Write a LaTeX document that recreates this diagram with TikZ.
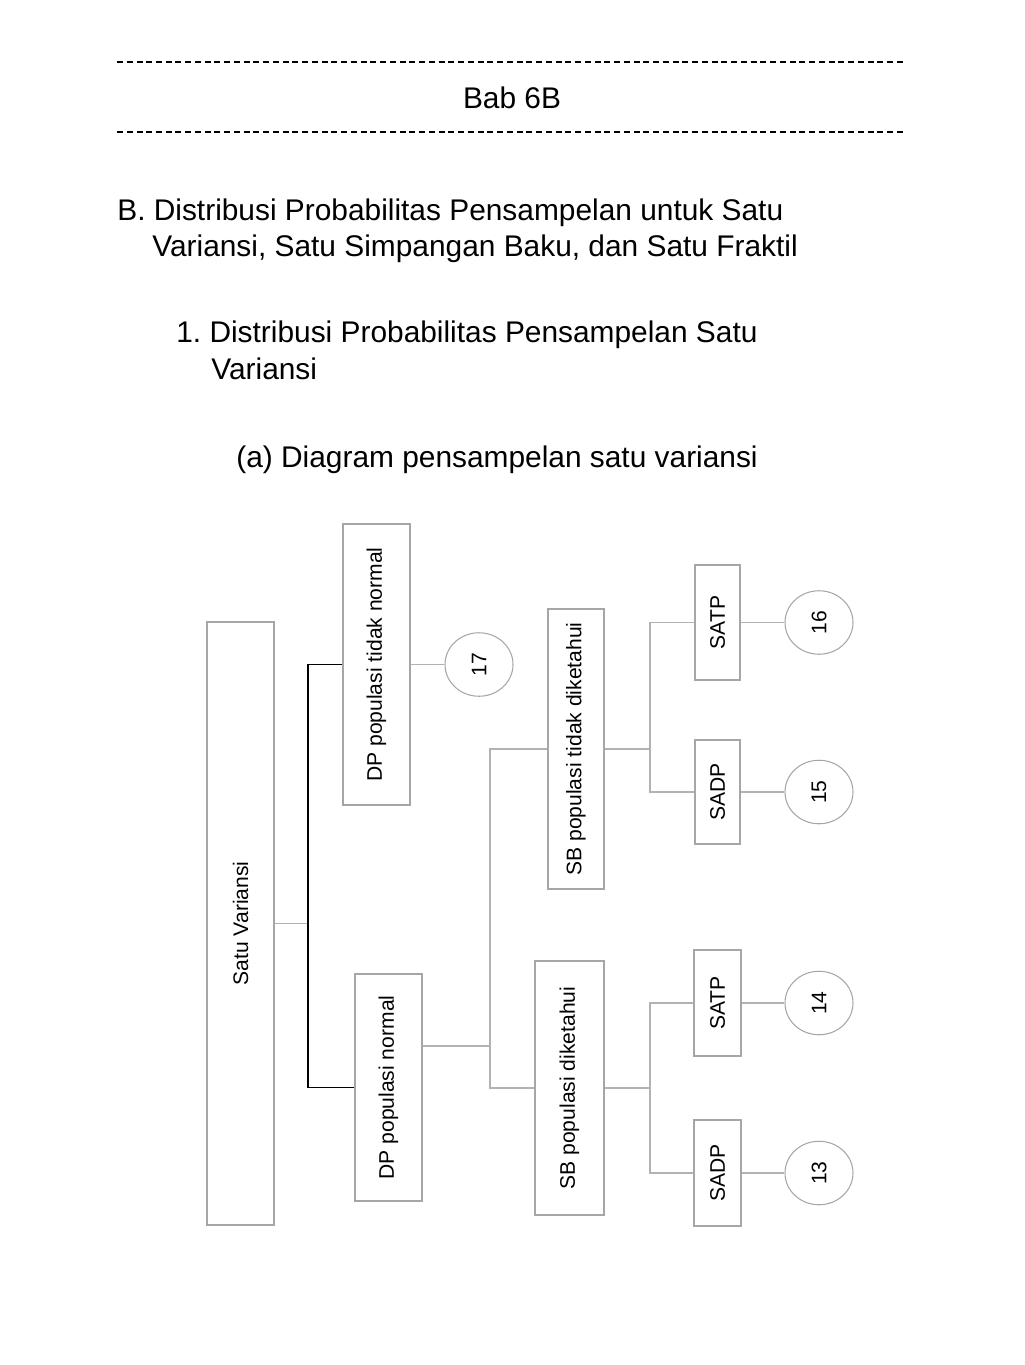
\documentclass[tikz,border=0pt]{standalone}
\usepackage{fontspec}
\setmainfont{Liberation Sans}
\usepackage{tikz}
\usetikzlibrary{shapes.geometric,calc}
\tikzset{
    kotak/.style={
        rectangle,
        draw=black!35,
        line width=0.6pt,
        inner sep=0pt,
        font=\fontsize{12}{14}\selectfont
    },
    lingkaran/.style={
        ellipse,
        draw=black!35,
        line width=0.6pt,
        inner sep=0pt,
        minimum width=1.36cm,
        minimum height=1.27cm,
        font=\fontsize{12}{14}\selectfont
    },
    garis/.style={draw=black!30, line width=0.6pt},
    garisTebal/.style={draw=black, line width=1.1pt},
    judul/.style={font=\fontsize{17}{20}\selectfont, inner sep=0pt},
    pemisah/.style={line width=1.5pt, dash pattern=on 0.12cm off 0.075cm}
}

\begin{document}
\begin{tikzpicture}

    \useasboundingbox[fill=white] (0,0) rectangle (20.48,-27.3);

    % kepala halaman
    \draw[pemisah] (2.34,-1.24) -- (18.10,-1.24);
    \node[judul, anchor=base] (bab) at (10.24,-2.16) {Bab 6B};
    \draw[pemisah] (2.34,-2.64) -- (18.10,-2.64);

    \node[judul, anchor=base west] (bagB1) at (2.34,-4.40)
    {B.\ Distribusi Probabilitas Pensampelan untuk Satu};
    \node[judul, anchor=base west] (bagB2) at (3.04,-5.12)
    {Variansi, Satu Simpangan Baku, dan Satu Fraktil};

    \node[judul, anchor=base west] (sub1a) at (3.52,-6.84)
    {1.\ Distribusi Probabilitas Pensampelan Satu};
    \node[judul, anchor=base west] (sub1b) at (4.22,-7.58)
    {Variansi};

    \node[judul, anchor=base west] (subA) at (4.72,-9.34)
    {(a) Diagram pensampelan satu variansi};

    % kotak-kotak
    \node[kotak, minimum width=1.34cm, minimum height=12.06cm] (sv) at (4.81,-18.47)
    {\rotatebox{90}{Satu Variansi}};

    \node[kotak, minimum width=1.34cm, minimum height=5.62cm] (dpt) at (7.53,-13.29)
    {\rotatebox{90}{DP populasi tidak normal}};

    \node[kotak, minimum width=1.34cm, minimum height=4.54cm] (dpn) at (7.77,-21.75)
    {\rotatebox{90}{DP populasi normal}};

    \node[kotak, minimum width=1.12cm, minimum height=5.60cm] (sbt) at (11.52,-14.98)
    {\rotatebox{90}{SB populasi tidak diketahui}};

    \node[kotak, minimum width=1.38cm, minimum height=5.08cm] (sbd) at (11.39,-21.76)
    {\rotatebox{90}{SB populasi diketahui}};

    \node[kotak, minimum width=0.90cm, minimum height=2.30cm] (satpA) at (14.35,-12.45)
    {\rotatebox{90}{SATP}};

    \node[kotak, minimum width=0.90cm, minimum height=2.08cm] (sadpA) at (14.35,-15.84)
    {\rotatebox{90}{SADP}};

    \node[kotak, minimum width=0.94cm, minimum height=2.12cm] (satpB) at (14.35,-20.06)
    {\rotatebox{90}{SATP}};

    \node[kotak, minimum width=0.94cm, minimum height=2.12cm] (sadpB) at (14.35,-23.46)
    {\rotatebox{90}{SADP}};

    % lingkaran nomor
    \node[lingkaran] (n17) at (9.58,-13.29) {\rotatebox{90}{17}};
    \node[lingkaran] (n16) at (16.38,-12.45) {\rotatebox{90}{16}};
    \node[lingkaran] (n15) at (16.38,-15.84) {\rotatebox{90}{15}};
    \node[lingkaran] (n14) at (16.38,-20.06) {\rotatebox{90}{14}};
    \node[lingkaran] (n13) at (16.38,-23.46) {\rotatebox{90}{13}};

    % titik cabang
    \coordinate (cabangA) at (6.16,-18.47);
    \coordinate (cabangB) at (9.80,-20.92);
    \coordinate (cabangC) at (13.00,-14.98);
    \coordinate (cabangD) at (13.00,-21.76);

    % garis penghubung
    \draw[garis] (sv.east) -- (cabangA);
    \draw[garisTebal] (dpt.west) -| (cabangA) |- (dpn.west);

    \draw[garis] (dpt.east) -- (n17);

    \draw[garis] (dpn.east |- cabangB) -- (cabangB);
    \draw[garis] (sbt.west) -| (cabangB) |- (sbd.west);

    \draw[garis] (sbt.east) -- (cabangC);
    \draw[garis] (satpA.west) -| (cabangC) |- (sadpA.west);

    \draw[garis] (sbd.east) -- (cabangD);
    \draw[garis] (satpB.west) -| (cabangD) |- (sadpB.west);

    \draw[garis] (satpA) -- (n16);
    \draw[garis] (sadpA) -- (n15);
    \draw[garis] (satpB) -- (n14);
    \draw[garis] (sadpB) -- (n13);

\end{tikzpicture}
\end{document}
